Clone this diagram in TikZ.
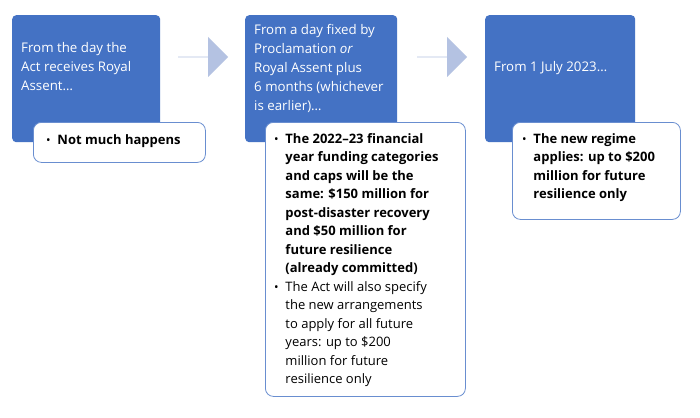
\documentclass[tikz,border=0pt]{standalone}
\usepackage{fontspec}
\setmainfont{Open Sans}
\usetikzlibrary{shapes.arrows}
\definecolor{bblue}{HTML}{4472C4}
\definecolor{arr}{HTML}{B4C2E2}
\tikzset{
 bluebox/.style={fill=bblue,rounded corners=4pt,draw=none},
 callout/.style={fill=white,draw=bblue!80,line width=0.8pt,rounded corners=8pt},
 btext/.style={text=white,align=left,anchor=north west,font=\fontsize{13.3}{19}\selectfont,inner sep=0pt},
 ctext/.style={text=black,anchor=north west,font=\fontsize{13}{18.5}\selectfont,inner sep=0pt},
 fat/.style={single arrow,fill=arr,draw=none,minimum height=50pt,minimum width=40pt,single arrow head extend=9pt,inner sep=0pt,single arrow tip angle=90}
}
\newcommand{\bul}{{\large\textbullet}}
\begin{document}
\begin{tikzpicture}[x=1pt,y=-1pt]
\useasboundingbox (0,0) rectangle (700,417);
\fill[white] (0,0) rectangle (700,417);
\node[bluebox,minimum width=148pt,minimum height=127pt,anchor=north west] (b1) at (12,15) {};
\node[bluebox,minimum width=152pt,minimum height=127pt,anchor=north west] (b2) at (245,15) {};
\node[bluebox,minimum width=150pt,minimum height=127pt,anchor=north west] (b3) at (485,15) {};
\node[btext] (t1) at (21,42) {From the day the\\Act receives Royal\\Assent\ldots};
\node[btext] (t2) at (254,24) {From a day fixed by\\Proclamation \textit{or}\\Royal Assent plus\\6 months (whichever\\is earlier)\ldots};
\node[btext] (t3) at (494,61) {From 1 July 2023\ldots};
\node[fat] (a1) at (203,57) {};
\node[fat] (a2) at (442,57) {};
\node[callout,minimum width=172pt,minimum height=40pt,anchor=north west] (c1) at (33,122) {};
\node[callout,minimum width=200pt,minimum height=274pt,anchor=north west] (c2) at (265,122) {};
\node[callout,minimum width=168pt,minimum height=97pt,anchor=north west] (c3) at (512,122) {};
\node[ctext] (x1) at (46,134) {\bul\ \ \textbf{Not much happens}};
\node[ctext] (x2) at (274,130) {%
\begin{tabular}{@{}l@{\ \ }l@{}}
\bul & \textbf{The 2022–23 financial}\\
 & \textbf{year funding categories}\\
 & \textbf{and caps will be the}\\
 & \textbf{same: \$150 million for}\\
 & \textbf{post-disaster recovery}\\
 & \textbf{and \$50 million for}\\
 & \textbf{future resilience}\\
 & \textbf{(already committed)}\\
\bul & The Act will also specify\\
 & the new arrangements\\
 & to apply for all future\\
 & years: up to \$200\\
 & million for future\\
 & resilience only
\end{tabular}};
\node[ctext] (x3) at (522,130) {%
\begin{tabular}{@{}l@{\ \ }l@{}}
\bul & \textbf{The new regime}\\
 & \textbf{applies: up to \$200}\\
 & \textbf{million for future}\\
 & \textbf{resilience only}
\end{tabular}};
\end{tikzpicture}
\end{document}
